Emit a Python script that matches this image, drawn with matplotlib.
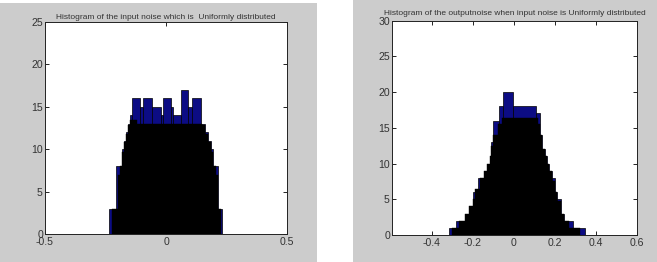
import matplotlib
matplotlib.use("Agg")
import matplotlib.pyplot as plt
from matplotlib.patches import Rectangle
import numpy as np

# ---------------- data ----------------
# Left: histogram of the uniformly distributed input noise
left_title = "Histogram of the input noise which is  Uniformly distributed"
left_outline_edges = [-0.236, -0.207, -0.183, -0.174, -0.165, -0.156, -0.149, -0.142,
                      -0.107, -0.096, -0.059, -0.021, -0.014, 0.021, 0.030, 0.061,
                      0.092, 0.109, 0.143, 0.161, 0.175, 0.186, 0.196, 0.216, 0.233]
left_outline_counts = [3, 8, 10, 11, 12, 13, 14, 16, 15, 16, 15, 14, 16, 15, 14, 17,
                       15, 16, 13, 12, 11, 10, 8, 3]
left_core_edges = [-0.222, -0.200, -0.190, -0.183, -0.174, -0.165, -0.156, -0.149,
                   -0.120, 0.150, 0.161, 0.175, 0.186, 0.196, 0.205, 0.216, 0.228]
left_core_counts = [3, 7, 8, 9.7, 10.8, 11.8, 12.8, 13.5, 13, 12.8, 11.8, 10.8, 9.7,
                    8, 7, 3]
left_xticks = [-0.5, 0, 0.5]
left_xticklabels = ["-0.5", "0", "0.5"]
left_yticks = [0, 5, 10, 15, 20, 25]

# Right: histogram of the output noise
right_title = "Histogram of the outputnoise when input noise is Uniformly distributed"
right_outline_edges = [-0.316, -0.285, -0.232, -0.219, -0.202, -0.175, -0.144, -0.131,
                       -0.119, -0.111, -0.100, -0.073, -0.053, -0.007, 0.109, 0.126,
                       0.138, 0.149, 0.159, 0.171, 0.184, 0.199, 0.212, 0.229, 0.245,
                       0.287, 0.345]
right_outline_counts = [1, 2, 3, 4, 6, 8, 9, 10, 11, 13, 16, 18, 20, 18, 17, 14, 12,
                        11, 10, 9, 8, 6, 5, 3, 2, 1]
right_core_edges = [-0.300, -0.270, -0.240, -0.219, -0.202, -0.188, -0.165, -0.144,
                    -0.131, -0.119, -0.111, -0.100, -0.080, -0.060, 0.115, 0.126,
                    0.138, 0.149, 0.159, 0.171, 0.184, 0.199, 0.212, 0.229, 0.245,
                    0.270, 0.320]
right_core_counts = [1, 2, 3, 4, 5, 6.5, 8, 9, 10, 11, 12.5, 14, 15.5, 16.3, 15.5, 14,
                     12, 11, 10, 9, 7.5, 6, 4.8, 3, 2, 1]
right_xticks = [-0.4, -0.2, 0, 0.2, 0.4, 0.6]
right_xticklabels = ["-0.4", "-0.2", "0", "0.2", "0.4", "0.6"]
right_yticks = [0, 5, 10, 15, 20, 25, 30]

# ---------------- style ----------------
plt.rcParams['font.family'] = ['Liberation Sans', 'DejaVu Sans']
BLUE = '#0c0c84'
GRAY = '#cccccc'
TXT = '#333333'

fig = plt.figure(figsize=(6.57, 2.62), dpi=100, facecolor='white')
W, H = 657.0, 262.0
fig.patches.append(Rectangle((0, 0), 317 / W, 259 / H, transform=fig.transFigure,
                             facecolor=GRAY, edgecolor='none', zorder=-10))
fig.patches.append(Rectangle((353 / W, 0), 1 - 353 / W, 1, transform=fig.transFigure,
                             facecolor=GRAY, edgecolor='none', zorder=-10))


def draw(rect, outline_edges, outline_counts, core_edges, core_counts,
         xlim, ylim, xticks, xticklabels, yticks, title, title_pad):
    ax = fig.add_axes(rect)
    ax.set_facecolor('white')
    oe = np.array(outline_edges)
    ax.bar(oe[:-1], outline_counts, width=np.diff(oe), align='edge',
           color=BLUE, edgecolor='black', linewidth=0.5)
    ce = np.array(core_edges)
    ax.bar(ce[:-1], core_counts, width=np.diff(ce), align='edge',
           color='black', edgecolor='black', linewidth=0.3)
    ax.set_xlim(*xlim)
    ax.set_ylim(*ylim)
    ax.set_xticks(xticks)
    ax.set_xticklabels(xticklabels)
    ax.set_yticks(yticks)
    ax.tick_params(direction='in', top=True, right=True, length=3, width=0.6,
                   labelsize=7.6, labelcolor=TXT)
    ax.tick_params(axis='x', pad=2.5)
    ax.tick_params(axis='y', pad=1.5)
    for s in ax.spines.values():
        s.set_linewidth(0.7)
        s.set_color('#222222')
    ax.set_title(title, fontsize=6.0, color=TXT, pad=title_pad)
    return ax


draw([45 / W, 1 - 234 / H, 242 / W, 212 / H],
     left_outline_edges, left_outline_counts, left_core_edges, left_core_counts,
     (-0.5, 0.5), (0, 25), left_xticks, left_xticklabels, left_yticks, left_title, 2.5)

draw([392 / W, 1 - 235 / H, 245 / W, 214.5 / H],
     right_outline_edges, right_outline_counts, right_core_edges, right_core_counts,
     (-0.595, 0.6), (0, 30), right_xticks, right_xticklabels, right_yticks, right_title, 4.0)

fig.savefig("out.png", dpi=100, facecolor='white')
